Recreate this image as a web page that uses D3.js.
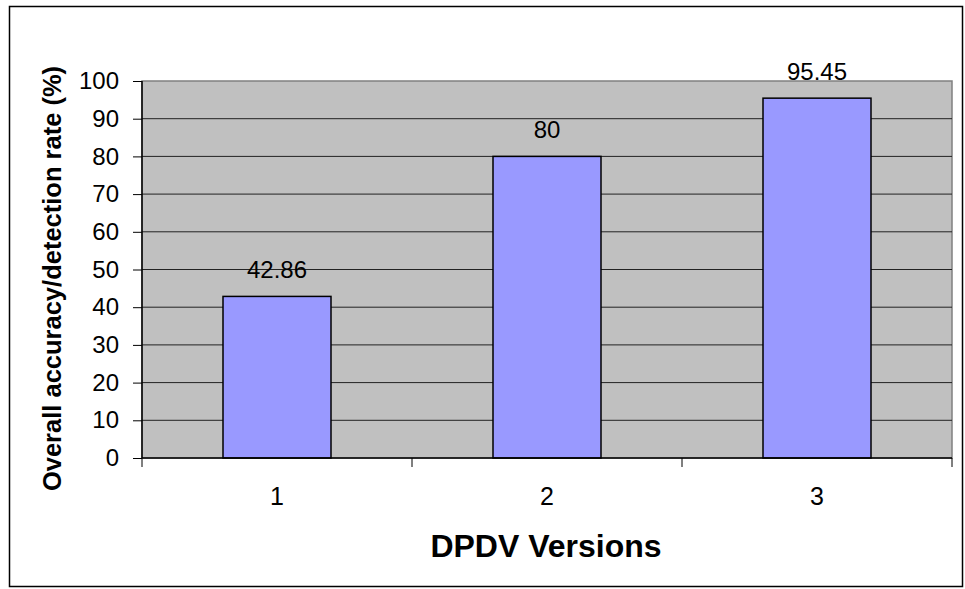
<!DOCTYPE html>
<html><head><meta charset="utf-8">
<script src="https://cdn.jsdelivr.net/npm/d3@7"></script>
<style>body{margin:0;background:#fff}svg{display:block}</style>
</head><body>
<script>
const categories = ["1", "2", "3"];
const values = [42.86, 80, 95.45];
const valueLabels = ["42.86", "80", "95.45"];
const yTicks = [0, 10, 20, 30, 40, 50, 60, 70, 80, 90, 100];

const W = 965, H = 589;
const svg = d3.select("body").append("svg").attr("width", W).attr("height", H);
svg.append("rect").attr("x", 9.5).attr("y", 6.5).attr("width", 953).attr("height", 580)
  .attr("fill", "#fff").attr("stroke", "#000").attr("stroke-width", 1.5);

const L = 142, R = 952, T = 81, B = 458;
const x = d3.scaleBand().domain(categories).range([L, R]);
const y = d3.scaleLinear().domain([0, 100]).range([B, T]);
const font = "Liberation Sans, Arial, sans-serif";

svg.append("rect").attr("x", L).attr("y", T).attr("width", R - L).attr("height", B - T)
  .attr("fill", "#c0c0c0").attr("stroke", "#808080").attr("stroke-width", 1.5);

svg.append("g").selectAll("line").data(yTicks.filter(d => d > 0 && d < 100)).join("line")
  .attr("x1", L).attr("x2", R).attr("y1", d => y(d)).attr("y2", d => y(d))
  .attr("stroke", "#222").attr("stroke-width", 1);

svg.append("g").selectAll("rect").data(values).join("rect")
  .attr("x", (d, i) => x(categories[i]) + x.bandwidth() * 0.3)
  .attr("width", x.bandwidth() * 0.4)
  .attr("y", d => y(d)).attr("height", d => B - y(d))
  .attr("fill", "#9999ff").attr("stroke", "#000").attr("stroke-width", 1.5);

svg.append("g").selectAll("text").data(values).join("text")
  .attr("x", (d, i) => x(categories[i]) + x.bandwidth() / 2)
  .attr("y", d => y(d) - 18.5)
  .attr("text-anchor", "middle").attr("font-family", font).attr("font-size", 24)
  .text((d, i) => valueLabels[i]);

// y axis
const ya = svg.append("g").attr("transform", `translate(${L},0)`)
  .call(d3.axisLeft(y).tickValues(yTicks).tickSize(9).tickPadding(14));
ya.select(".domain").attr("stroke", "#000").attr("stroke-width", 1.5).attr("d", `M0,${T}V${B}`);
ya.selectAll(".tick line").attr("stroke", "#000");
ya.selectAll(".tick text").attr("font-family", font).attr("font-size", 24).attr("fill", "#000");

// x axis
const xa = svg.append("g").attr("transform", `translate(0,${B})`);
xa.append("line").attr("x1", L).attr("x2", R).attr("stroke", "#000").attr("stroke-width", 1.5);
xa.selectAll("line.tk").data([...categories.map(c => x(c)), R]).join("line").attr("class", "tk")
  .attr("x1", d => d).attr("x2", d => d).attr("y1", 0).attr("y2", 9).attr("stroke", "#000");
xa.selectAll("text").data(categories).join("text")
  .attr("x", d => x(d) + x.bandwidth() / 2).attr("y", 46.5)
  .attr("text-anchor", "middle").attr("font-family", font).attr("font-size", 25).text(d => d);

svg.append("text").attr("x", 546).attr("y", 557).attr("text-anchor", "middle")
  .attr("font-family", font).attr("font-size", 32).attr("font-weight", "bold").text("DPDV Versions");
svg.append("text").attr("transform", `translate(61,${(60 + 497) / 2}) rotate(-90)`).attr("text-anchor", "middle")
  .attr("font-family", font).attr("font-size", 25.5).attr("font-weight", "bold").text("Overall accuracy/detection rate (%)");
</script>
</body></html>
